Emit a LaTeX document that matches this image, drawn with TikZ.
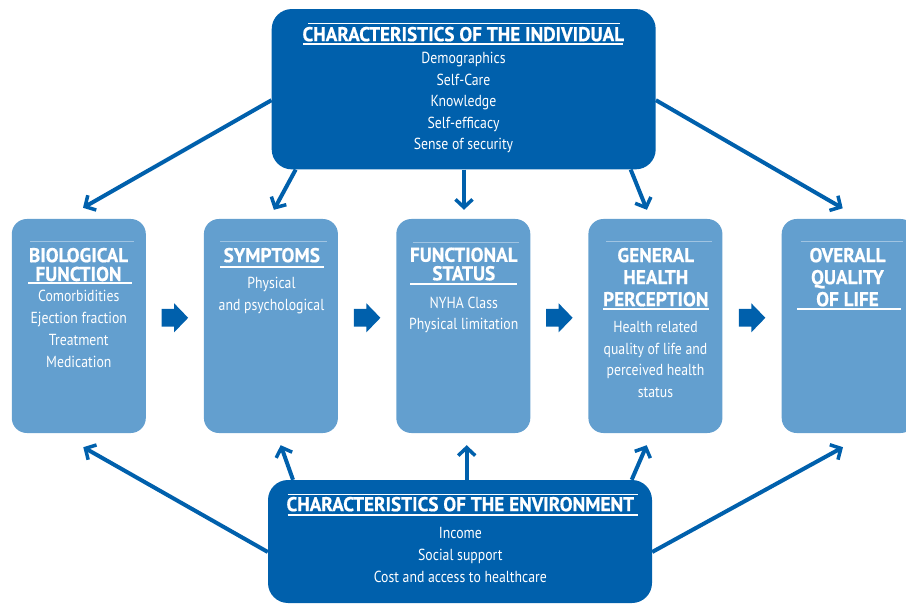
\documentclass[tikz,border=0pt]{standalone}
\usepackage{fontspec}
\setmainfont{PT Sans}[FakeStretch=0.86]
\newfontfamily\titlefont{PT Sans}[FakeStretch=0.96,BoldFeatures={FakeBold=0.6}]
\usetikzlibrary{arrows.meta,calc}
\definecolor{dblue}{RGB}{0,96,172}
\definecolor{lblue}{RGB}{99,159,207}
\definecolor{fline}{RGB}{160,196,226}
\begin{document}
\begin{tikzpicture}[x=1pt,y=-1pt,
  dbox/.style={fill=dblue, rounded corners=20pt, inner sep=0pt, minimum width=384pt},
  lbox/.style={fill=lblue, rounded corners=15pt, inner sep=0pt, minimum width=134pt, minimum height=214pt},
  ttl/.style={anchor=north, inner sep=0pt, text=white, align=center, font=\titlefont\fontsize{20}{#1}\selectfont\bfseries},
  ttl/.default=22,
  bdy/.style={anchor=north, inner sep=0pt, text=white, align=center, font=\fontsize{16}{#1}\selectfont},
  bdy/.default=21.7,
  uline/.style={draw=white, line width=1.8pt},
  tline/.style={draw=fline, line width=1pt},
  dtline/.style={draw=white, line width=1.2pt},
  arr/.style={draw=dblue, line width=4pt, -{Straight Barb[length=8pt,width=17pt,line width=3.5pt]}},
  blockarrow/.style={fill=dblue}
]
\useasboundingbox (0,0) rectangle (906,604);

% boxes
\node[dbox, minimum height=160.3pt] (top) at (463.7,89.2) {};
\node[dbox, minimum height=123pt] (bot) at (460,541.5) {};
\node[lbox] (b1) at (78.8,326) {};
\node[lbox] (b2) at (270.9,326) {};
\node[lbox] (b3) at (463.3,326) {};
\node[lbox] (b4) at (655.4,326) {};
\node[lbox] (b5) at (848.7,326) {};

% tip coordinates
\coordinate (t1) at ($(b1.north)+(4.2,-11)$);
\coordinate (t2) at ($(b2.north)+(3,-9)$);
\coordinate (t3) at ($(b3.north)+(0.7,-9)$);
\coordinate (t4) at ($(b4.north)+(-8.5,-9)$);
\coordinate (t5) at ($(b5.north)+(-6,-10.5)$);
\coordinate (u1) at ($(b1.south)+(4.5,14)$);
\coordinate (u2) at ($(b2.south)+(9.8,12)$);
\coordinate (u3) at ($(b3.south)+(3.4,12)$);
\coordinate (u4) at ($(b4.south)+(-8.7,12)$);
\coordinate (u5) at ($(b5.south)+(-5.7,14)$);

% arrows from top box
\draw[arr] ($(top.west)+(0,11)$) -- (t1);
\draw[arr] ($(top.south)+(-168,0)$) -- (t2);
\draw[arr] ($(top.south)+(0.3,0)$) -- (t3);
\draw[arr] ($(top.south)+(167,0)$) -- (t4);
\draw[arr] ($(top.east)+(0,11)$) -- (t5);
% arrows from bottom box
\draw[arr] ($(bot.west)+(0,10.5)$) -- (u1);
\draw[arr] ($(bot.north)+(-167,0)$) -- (u2);
\draw[arr] ($(bot.north)+(6.7,0)$) -- (u3);
\draw[arr] ($(bot.north)+(171.7,0)$) -- (u4);
\draw[arr] ($(bot.east)+(0,10.5)$) -- (u5);

% block arrows between boxes
\foreach \a/\b in {b1/b2,b2/b3,b3/b4,b4/b5}{
  \fill[blockarrow] ($(\a.east)!0.5!(\b.west)+(-13.3,-17.05)$) -- ++(12.6,0) -- ++(0,-5.65)
    -- ++(14,14.5) -- ++(-14,14.5) -- ++(0,-5.65) -- ++(-12.6,0) -- cycle;
}

% top box texts
\draw[dtline] (308,23.3) -- (620,23.3);
\node[ttl] (toptitle) at (463.3,26.7) {CHARACTERISTICS OF THE INDIVIDUAL};
\draw[uline] (303,44) -- (623,44);
\node[bdy=21.5] (topbody) at (463.5,52) {Demographics\\Self-Care\\Knowledge\\Self-efficacy\\Sense of security};

% bottom box texts
\draw[dtline] (287.7,494.3) -- (638,494.3);
\node[ttl] (bottitle) at (460.3,496.7) {CHARACTERISTICS OF THE ENVIRONMENT};
\draw[uline] (287.7,515) -- (638,515);
\node[bdy=22] (botbody) at (460.3,526.7) {Income\\Social support\\Cost and access to healthcare};

% b1
\draw[tline] (30,242) -- (134,242);
\node[ttl=18.8] (b1t) at (78.5,247.7) {BIOLOGICAL\\FUNCTION};
\draw[uline] (28.3,283.3) -- (131.7,283.3);
\node[bdy=21.9] (b1b) at (78.8,290) {Comorbidities\\Ejection fraction\\Treatment\\Medication};

% b2
\draw[tline] (220,242) -- (326.7,242);
\node[ttl] (b2t) at (271.8,247.7) {SYMPTOMS};
\draw[uline] (220,266.7) -- (324,266.7);
\node[bdy=21.5] (b2b) at (271.5,277.3) {Physical\\and psychological};

% b3
\draw[tline] (412.7,242.3) -- (519,242.3);
\node[ttl=18.5] (b3t) at (463.8,247.3) {FUNCTIONAL\\STATUS};
\draw[uline] (410,284) -- (517.3,284);
\node[bdy=21] (b3b) at (463.8,296.7) {NYHA Class\\Physical limitation};

% b4
\draw[tline] (606,242) -- (711.7,242);
\node[ttl=22] (b4t) at (655.8,247.7) {GENERAL\\HEALTH\\PERCEPTION};
\draw[uline] (603,309) -- (709,309);
\node[bdy=21.7] (b4b) at (655.5,321) {Health related\\quality of life and\\perceived health\\status};

% b5
\draw[tline] (800.7,242) -- (903,242);
\node[ttl=22] (b5t) at (847.5,247.7) {OVERALL\\QUALITY\\OF LIFE};
\draw[uline] (797,309) -- (900.7,309);
\end{tikzpicture}
\end{document}
